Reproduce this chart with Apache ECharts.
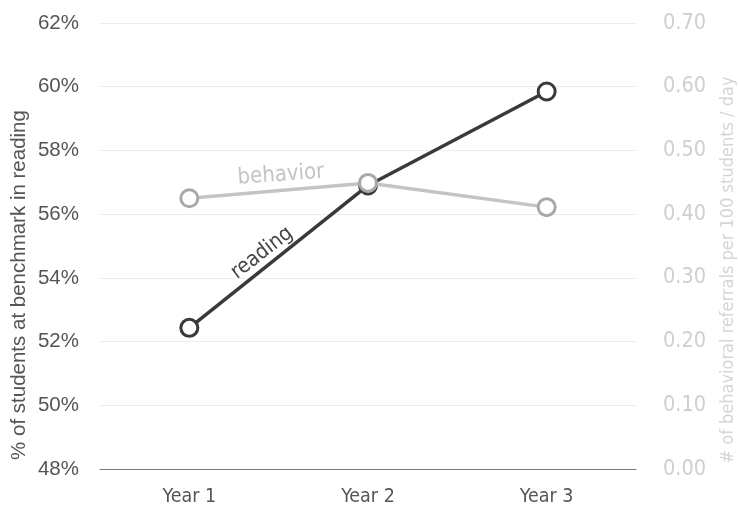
<!DOCTYPE html>
<html><head><meta charset="utf-8">
<script src="https://cdn.jsdelivr.net/npm/echarts@6/dist/echarts.min.js"></script>
<style>html,body{margin:0;padding:0;background:#fff}#c{width:738px;height:513px}</style>
</head><body><div id="c"></div>
<script>
var categories = ['Year 1', 'Year 2', 'Year 3'];
var readingValues = [52.43, 56.9, 59.85];
var behaviorValues = [0.425, 0.449, 0.411];
var leftTicks = [48, 50, 52, 54, 56, 58, 60, 62];
var rightTicks = [0, 0.1, 0.2, 0.3, 0.4, 0.5, 0.6, 0.7];

var chart = echarts.init(document.getElementById('c'));
var condensed = '"DejaVu Sans Condensed", "Liberation Sans Narrow", "Roboto", sans-serif';
chart.setOption({
  animation: false,
  grid: {left: 100, right: 102, top: 23, bottom: 44},
  xAxis: {
    type: 'category', data: categories, boundaryGap: true,
    axisLine: {lineStyle: {color: '#7a7a7a', width: 1.2}},
    axisTick: {show: false},
    axisLabel: {color: '#555', fontSize: 19.5, margin: 18, fontFamily: condensed}
  },
  yAxis: [{
    type: 'value', min: 48, max: 62, interval: 2,
    axisLabel: {color: '#555', fontSize: 20.5, margin: 21, fontFamily: '"Liberation Sans", Arial, sans-serif',
      formatter: function (v) { return v + '%'; }},
    splitLine: {lineStyle: {color: '#ececec', width: 1}},
    axisLine: {show: false}, axisTick: {show: false}
  }, {
    type: 'value', min: 0, max: 0.7, interval: 0.1, position: 'right',
    axisLabel: {color: '#cfcfcf', fontSize: 21.5, margin: 27, fontFamily: condensed,
      formatter: function (v) { return v.toFixed(2); }},
    splitLine: {show: false}, axisLine: {show: false}, axisTick: {show: false}
  }],
  series: [{
    name: 'behavior', type: 'line', yAxisIndex: 1, data: behaviorValues,
    symbol: 'circle', symbolSize: 17,
    lineStyle: {color: '#c4c4c4', width: 3.5},
    itemStyle: {color: '#fff', borderColor: '#a8a8a8', borderWidth: 3},
    z: 3
  }, {
    name: 'reading', type: 'line', yAxisIndex: 0, data: readingValues,
    symbol: 'circle', symbolSize: 17,
    lineStyle: {color: '#3a3a3a', width: 3.5},
    itemStyle: {color: '#fff', borderColor: '#3a3a3a', borderWidth: 3},
    z: 2
  }],
  graphic: [
    {type: 'text', x: 19, y: 285, rotation: Math.PI / 2,
      style: {text: '% of students at benchmark in reading', fill: '#555', fontSize: 20.5,
        fontFamily: '"Liberation Sans", Arial, sans-serif', align: 'center', verticalAlign: 'middle'}},
    {type: 'text', x: 728, y: 270, rotation: Math.PI / 2,
      style: {text: '# of behavioral referrals per 100 students / day', fill: '#d6d6d6', fontSize: 18,
        fontFamily: condensed, align: 'center', verticalAlign: 'middle'}},
    {type: 'text', x: 281, y: 175, rotation: 0.07,
      style: {text: 'behavior', fill: '#c4c4c4', fontSize: 22, fontFamily: condensed,
        align: 'center', verticalAlign: 'middle'}},
    {type: 'text', x: 262, y: 253, rotation: 0.66,
      style: {text: 'reading', fill: '#444', fontSize: 21, fontFamily: condensed,
        align: 'center', verticalAlign: 'middle'}}
  ]
});
</script></body></html>
